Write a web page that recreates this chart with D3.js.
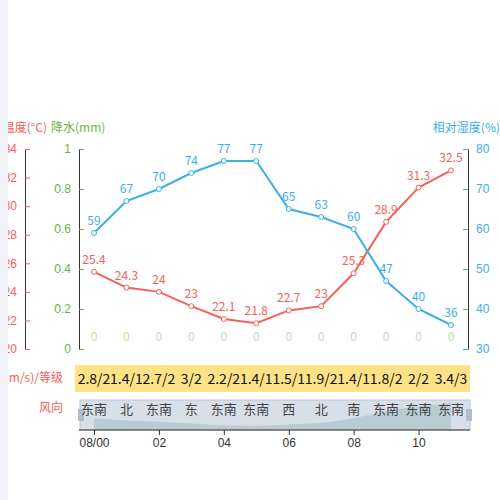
<!DOCTYPE html>
<html><head><meta charset="utf-8">
<script src="https://cdn.jsdelivr.net/npm/d3@7"></script>
<style>body{margin:0;background:#fff}svg{display:block;font-family:"Microsoft YaHei","Noto Sans CJK SC",sans-serif}</style>
</head><body><div id="chart"></div>
<script>
// 数据
const hours = ["08/00","01","02","03","04","05","06","07","08","09","10","11"];
const temp = [25.4,24.3,24,23,22.1,21.8,22.7,23,25.3,28.9,31.3,32.5];
const humid = [59,67,70,74,77,77,65,63,60,47,40,36];
const rain = [0,0,0,0,0,0,0,0,0,0,0,0];
const wind = ["2.8/2","1.4/1","2.7/2","3/2","2.2/2","1.4/1","1.5/1","1.9/2","1.4/1","1.8/2","2/2","3.4/3"];
const windDir = ["东南","北","东南","东","东南","东南","西","北","南","东南","东南","东南"];
const tempTicks = [20,22,24,26,28,30,32,34];
const rainTicks = [0,0.2,0.4,0.6,0.8,1];
const humidTicks = [30,40,50,60,70,80];

const C = { temp:"#f5605a", hum:"#3aafe9", rain:"#72b043", rain0:"#b9e3a6", txt:"#333" };
const W = 500, H = 500, yTop = 149, yBot = 349;

const svg = d3.select("#chart").append("svg").attr("width",W).attr("height",H);

const x = d3.scalePoint().domain(hours).range([94,451]);
const yT = d3.scaleLinear().domain([20,34]).range([yBot,yTop]);
const yR = d3.scaleLinear().domain([0,1]).range([yBot,yTop]);
const yH = d3.scaleLinear().domain([30,80]).range([yBot,yTop]);

function styleAxis(g, color){
  g.select(".domain").attr("stroke","#333");
  g.selectAll(".tick line").attr("stroke",color);
  g.selectAll(".tick text").attr("fill",color).attr("font-size",12);
}
svg.append("g").attr("transform","translate(25,0)")
  .call(d3.axisRight(yT).tickValues(tempTicks).tickSize(5).tickSizeOuter(0))
  .call(g=>{styleAxis(g,C.temp); g.selectAll(".tick text").attr("text-anchor","end").attr("x",-8);});
svg.append("g").attr("transform","translate(79,0)")
  .call(d3.axisRight(yR).tickValues(rainTicks).tickFormat(d3.format("~g")).tickSize(5).tickSizeOuter(0))
  .call(g=>{styleAxis(g,C.rain); g.selectAll(".tick text").attr("text-anchor","end").attr("x",-8);});
svg.append("g").attr("transform","translate(468,0)")
  .call(d3.axisLeft(yH).tickValues(humidTicks).tickSize(5).tickSizeOuter(0))
  .call(g=>{styleAxis(g,C.hum); g.selectAll(".tick text").attr("text-anchor","start").attr("x",8);});

// 标题
svg.append("text").attr("x",47).attr("y",132).attr("text-anchor","end").attr("fill",C.temp).attr("font-size",12).text("温度(°C)");
svg.append("text").attr("x",51).attr("y",132).attr("fill",C.rain).attr("font-size",12).text("降水(mm)");
svg.append("text").attr("x",500).attr("y",132).attr("text-anchor","end").attr("fill",C.hum).attr("font-size",12).text("相对湿度(%)");

// 降水 0
svg.append("g").selectAll("text").data(rain).join("text")
  .attr("x",(d,i)=>x(hours[i])).attr("y",yR(0)-8).attr("text-anchor","middle")
  .attr("fill",C.rain0).attr("font-size",12).text(d=>d);

function series(vals, y, color){
  const pts = vals.map((v,i)=>[x(hours[i]), y(v)]);
  svg.append("path").attr("d",d3.line()(pts)).attr("fill","none").attr("stroke",color).attr("stroke-width",2);
  svg.append("g").selectAll("circle").data(pts).join("circle")
    .attr("cx",d=>d[0]).attr("cy",d=>d[1]).attr("r",2.5).attr("fill","#fff").attr("stroke",color).attr("stroke-width",1);
  svg.append("g").selectAll("text").data(vals).join("text")
    .attr("x",(d,i)=>pts[i][0]).attr("y",(d,i)=>pts[i][1]-8).attr("text-anchor","middle")
    .attr("fill",color).attr("font-size",12).text(d=>d);
}
series(temp, yT, C.temp);
series(humid, yH, C.hum);

// 风速行
const step = x.step();
svg.append("rect").attr("x",75).attr("y",365).attr("width",395).attr("height",27).attr("fill","#fde385");
svg.append("text").attr("x",63).attr("y",382).attr("text-anchor","end").attr("fill",C.temp).attr("font-size",12).text("风速(m/s)/等级");
const defs = svg.append("defs");
wind.forEach((w,i)=>{
  defs.append("clipPath").attr("id","c"+i).append("rect")
    .attr("x",x(hours[i])-step/2).attr("y",360).attr("width",step).attr("height",40);
  svg.append("text").attr("clip-path",`url(#c${i})`).attr("x",x(hours[i])).attr("y",384)
    .attr("text-anchor","middle").attr("fill","#111").attr("font-size",14).text(w);
});

// 风向 / 缩放条
svg.append("text").attr("x",63).attr("y",412).attr("text-anchor","end").attr("fill",C.temp).attr("font-size",12).text("风向");
svg.append("rect").attr("x",80).attr("y",400).attr("width",390).attr("height",30).attr("fill","#d7dfe9").attr("stroke","#b9c6d4");
const yS = d3.scaleLinear().domain([20,34]).range([430,400]);
svg.append("path").datum(temp)
  .attr("d",d3.area().x((d,i)=>x(hours[i])).y0(430).y1(d=>yS(d)).curve(d3.curveBasis))
  .attr("fill","#b4cbd0").attr("opacity",0.9);
svg.append("rect").attr("x",78).attr("y",409).attr("width",6).attr("height",12).attr("fill","#aebccd");
svg.append("rect").attr("x",466).attr("y",409).attr("width",6).attr("height",12).attr("fill","#aebccd");
svg.append("g").selectAll("text").data(windDir).join("text")
  .attr("x",(d,i)=>x(hours[i])).attr("y",414).attr("text-anchor","middle")
  .attr("fill","#444").attr("font-size",13).text(d=>d);

// 时间轴
svg.append("g").attr("transform","translate(0,430)")
  .call(d3.axisBottom(x).tickValues(hours.filter((d,i)=>i%2===0)).tickSize(5).tickSizeOuter(0))
  .call(g=>{g.select(".domain").attr("stroke","#333").attr("d","M79,0H470");
    g.selectAll(".tick line").attr("stroke","#333");
    g.selectAll(".tick text").attr("fill",C.txt).attr("font-size",12);});

// 左侧边栏
svg.append("rect").attr("x",0).attr("y",0).attr("width",8).attr("height",H).attr("fill","#f2f3f8");
</script></body></html>
